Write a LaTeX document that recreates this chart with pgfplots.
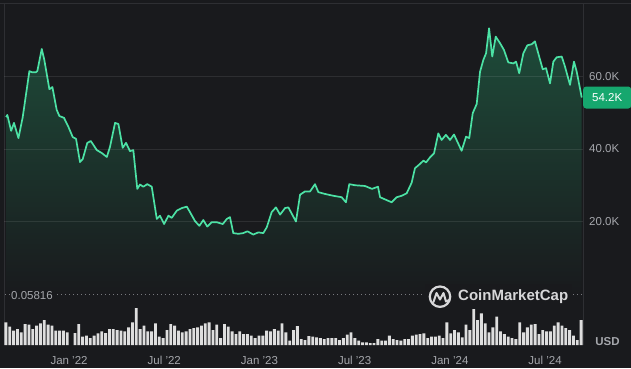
\documentclass[border=0pt]{standalone}
\usepackage{pgfplots}
\pgfplotsset{compat=1.18}
\usepackage{fontspec}
\setmainfont{Liberation Sans}
\definecolor{bg}{RGB}{25,26,29}
\definecolor{framec}{RGB}{46,47,51}
\definecolor{linec}{RGB}{76,226,165}
\definecolor{filltop}{RGB}{30,76,58}
\definecolor{labc}{RGB}{165,167,172}
\definecolor{dotc}{RGB}{120,122,126}
\definecolor{barc}{RGB}{222,222,222}
\definecolor{boxc}{RGB}{22,167,110}
\definecolor{logoc}{RGB}{215,215,217}
\newcommand{\lab}{\fontsize{11.5bp}{13bp}\selectfont}
\begin{document}
\begin{tikzpicture}[x=1bp,y=1bp]
\useasboundingbox (0,0) rectangle (631,368);
\fill[bg] (0,0) rectangle (631,368);
\draw[framec, line width=0.8bp] (0,365) -- (631,365);
\draw[framec, line width=0.8bp] (4,365) -- (4,23);
\draw[framec, line width=0.8bp] (583.5,365) -- (583.5,23);
\begin{axis}[at={(4bp,23bp)}, anchor=south west, scale only axis,
  width=579bp, height=342bp,
  xmin=-4.10, xmax=32.39, ymin=-14.07, ymax=80.28,
  axis line style={draw=none}, major tick length=0pt, axis on top,
  ytick={20,40,60}, yticklabels={20.0K,40.0K,60.0K}, yticklabel pos=right,
  ymajorgrids, grid style={white, opacity=0.09, line width=0.8bp},
  xtick={0,6,12,18,24,30},
  xticklabels={{Jan '22},{Jul '22},{Jan '23},{Jul '23},{Jan '24},{Jul '24}},
  tick label style={font=\lab, text=labc, inner sep=0pt},
  yticklabel style={anchor=west, xshift=6bp},
  xticklabel style={anchor=north, yshift=-11bp},
  clip=false]
\addplot[draw=none, top color=filltop, bottom color=bg, forget plot] coordinates {
(-3.97,0) (-3.97,48.8) (-3.89,49.4) (-3.65,45.0) (-3.47,47.2) (-3.19,43.0) (-2.92,48.8) (-2.50,61.5) (-2.35,61.2) (-2.08,61.2) (-2.00,61.5) (-1.72,67.6) (-1.56,64.6) (-1.24,56.5) (-1.05,57.1) (-0.78,50.8) (-0.61,49.1) (-0.32,48.6) (-0.04,46.1) (0.23,43.3) (0.44,42.8) (0.69,36.4) (0.86,37.2) (1.15,41.7) (1.37,42.2) (1.75,39.7) (2.06,38.9) (2.38,37.8) (2.58,40.6) (2.90,47.2) (3.11,46.9) (3.38,40.3) (3.59,41.7) (3.84,39.4) (4.05,39.7) (4.30,29.0) (4.47,30.2) (4.68,29.6) (4.93,30.3) (5.21,29.6) (5.53,20.7) (5.73,21.6) (5.99,19.3) (6.26,21.6) (6.47,21.0) (6.79,23.0) (7.10,23.7) (7.42,24.1) (7.62,22.6) (7.94,20.1) (8.21,18.8) (8.46,20.4) (8.71,18.6) (8.99,19.8) (9.31,19.8) (9.69,19.3) (9.94,20.7) (10.14,21.2) (10.35,16.8) (10.67,16.6) (10.98,16.8) (11.24,17.3) (11.61,16.4) (11.93,17.0) (12.24,16.8) (12.46,18.4) (12.77,22.6) (13.04,23.9) (13.30,21.9) (13.61,23.7) (13.82,23.9) (14.30,20.0) (14.56,27.4) (14.87,28.3) (15.19,28.3) (15.50,30.3) (15.71,28.1) (16.13,27.6) (16.65,27.1) (17.18,26.7) (17.45,25.3) (17.66,30.3) (18.02,30.0) (18.65,29.8) (19.09,29.0) (19.47,29.6) (19.60,26.7) (20.33,25.3) (20.65,26.7) (20.96,27.1) (21.28,27.8) (21.59,30.7) (21.80,34.7) (22.12,35.9) (22.33,36.8) (22.50,36.3) (22.75,37.7) (23.00,38.8) (23.27,44.3) (23.48,42.5) (23.75,43.9) (24.01,42.5) (24.26,44.0) (24.74,39.5) (25.02,43.4) (25.22,43.0) (25.44,49.9) (25.69,52.4) (25.90,61.3) (26.11,64.6) (26.28,66.4) (26.47,73.3) (26.67,65.5) (26.89,71.0) (27.16,69.2) (27.41,67.3) (27.68,63.9) (28.00,63.6) (28.17,64.1) (28.37,60.9) (28.63,66.4) (28.88,68.6) (29.16,68.9) (29.36,69.7) (29.57,66.4) (29.85,62.0) (30.06,62.3) (30.31,58.1) (30.52,64.1) (30.73,65.3) (31.05,65.5) (31.25,62.8) (31.57,57.7) (31.82,64.1) (31.99,61.4) (32.31,54.2) (32.31,0)};
\addplot[linec, line width=1.7bp, line join=round, mark=none] coordinates {
(-3.97,48.8) (-3.89,49.4) (-3.65,45.0) (-3.47,47.2) (-3.19,43.0) (-2.92,48.8) (-2.50,61.5) (-2.35,61.2) (-2.08,61.2) (-2.00,61.5) (-1.72,67.6) (-1.56,64.6) (-1.24,56.5) (-1.05,57.1) (-0.78,50.8) (-0.61,49.1) (-0.32,48.6) (-0.04,46.1) (0.23,43.3) (0.44,42.8) (0.69,36.4) (0.86,37.2) (1.15,41.7) (1.37,42.2) (1.75,39.7) (2.06,38.9) (2.38,37.8) (2.58,40.6) (2.90,47.2) (3.11,46.9) (3.38,40.3) (3.59,41.7) (3.84,39.4) (4.05,39.7) (4.30,29.0) (4.47,30.2) (4.68,29.6) (4.93,30.3) (5.21,29.6) (5.53,20.7) (5.73,21.6) (5.99,19.3) (6.26,21.6) (6.47,21.0) (6.79,23.0) (7.10,23.7) (7.42,24.1) (7.62,22.6) (7.94,20.1) (8.21,18.8) (8.46,20.4) (8.71,18.6) (8.99,19.8) (9.31,19.8) (9.69,19.3) (9.94,20.7) (10.14,21.2) (10.35,16.8) (10.67,16.6) (10.98,16.8) (11.24,17.3) (11.61,16.4) (11.93,17.0) (12.24,16.8) (12.46,18.4) (12.77,22.6) (13.04,23.9) (13.30,21.9) (13.61,23.7) (13.82,23.9) (14.30,20.0) (14.56,27.4) (14.87,28.3) (15.19,28.3) (15.50,30.3) (15.71,28.1) (16.13,27.6) (16.65,27.1) (17.18,26.7) (17.45,25.3) (17.66,30.3) (18.02,30.0) (18.65,29.8) (19.09,29.0) (19.47,29.6) (19.60,26.7) (20.33,25.3) (20.65,26.7) (20.96,27.1) (21.28,27.8) (21.59,30.7) (21.80,34.7) (22.12,35.9) (22.33,36.8) (22.50,36.3) (22.75,37.7) (23.00,38.8) (23.27,44.3) (23.48,42.5) (23.75,43.9) (24.01,42.5) (24.26,44.0) (24.74,39.5) (25.02,43.4) (25.22,43.0) (25.44,49.9) (25.69,52.4) (25.90,61.3) (26.11,64.6) (26.28,66.4) (26.47,73.3) (26.67,65.5) (26.89,71.0) (27.16,69.2) (27.41,67.3) (27.68,63.9) (28.00,63.6) (28.17,64.1) (28.37,60.9) (28.63,66.4) (28.88,68.6) (29.16,68.9) (29.36,69.7) (29.57,66.4) (29.85,62.0) (30.06,62.3) (30.31,58.1) (30.52,64.1) (30.73,65.3) (31.05,65.5) (31.25,62.8) (31.57,57.7) (31.82,64.1) (31.99,61.4) (32.31,54.2)};
\node[fill=boxc, rounded corners=3bp, text=white, font=\lab, anchor=west,
  minimum height=22bp, minimum width=48bp, inner sep=0pt] at (axis cs:32.39,54.2) {54.2K};
\end{axis}
% dotted zero line
\draw[dotc, line width=1bp, dash pattern=on 1bp off 3bp] (5,74) -- (583,74);
\node[fill=bg, text=labc, font=\lab, anchor=west, inner sep=1.5bp] at (9.5,72.5) {0.05816};
% logo
\fill[bg] (425,60) rectangle (572,84);
\draw[logoc, line width=2.2bp] (440,71.3) circle (10.2bp);
\draw[logoc, line width=2bp, line join=round, line cap=round] (433.5,66) -- (436.5,75) -- (440,68.5) -- (443.5,75) -- (446,66.5) -- (449,68);
\node[anchor=west, font=\fontsize{15bp}{18bp}\selectfont\bfseries, text=logoc, inner sep=0pt] at (458,71.3) {CoinMarketCap};
\node[font=\lab\bfseries, text=labc, inner sep=0pt] at (607.5,26) {USD};
\begin{axis}[at={(4bp,23bp)}, anchor=south west, scale only axis,
  width=579bp, height=45bp, xmin=0.5, xmax=151.5, ymin=0, ymax=45,
  hide axis, clip=false]
\addplot[ybar, bar width=0.74, fill=barc, draw=none] table[x=s, y=v] {
s v
1 22.7
2 18.3
3 14.3
4 16
5 12.7
6 21
7 20.3
8 16
9 19.3
10 21.7
11 25
12 20.3
13 19.3
14 14.3
15 14.3
16 14.3
17 12.7
19 12
20 21
21 8.3
22 9.3
23 7
24 9.3
25 11.7
26 13.7
27 12
28 16
29 16
30 15
31 14.3
32 13.7
33 17.7
34 22.7
35 37
36 16
37 19.3
38 13.7
39 13.7
40 21.7
41 8.3
42 7
43 15
44 21
45 19.3
46 14.3
47 12.7
48 13.7
49 16
50 17
51 17.7
52 19.3
53 21.7
54 22.7
55 15
56 20.3
57 7
58 21
59 18.3
60 13.7
61 11
62 13.7
63 11
64 11
65 9.3
66 7
67 9.3
68 9.3
69 14.3
70 13.7
71 16
72 14.3
73 21.7
74 12.7
75 4.3
76 15
77 19
78 6
79 5
80 9
81 8.3
82 7.7
83 7
84 6
85 7
86 7
87 7
88 5
89 7
90 10.3
91 12.7
92 7
93 4.3
94 2.7
95 2.7
96 2
97 2
98 6
99 4.3
100 4.3
101 9.3
102 6
103 5
104 4.3
105 6
106 6
107 9.3
108 10.3
109 11
110 11.7
111 7
112 8.3
113 8.3
114 9.3
115 7
116 22.7
117 11.7
118 15
119 12.7
120 7.7
121 20.3
122 15
123 36
124 25
125 31.7
126 21.7
127 12.7
128 17.7
129 28.3
130 13.7
131 11
132 8.3
133 7
134 6
135 22.7
136 12.7
137 17.7
138 20.3
139 21
140 11
141 15
142 13.7
143 13.7
144 19.3
145 22.7
146 19.3
147 17
148 15
149 9.3
150 5
151 25
};
\end{axis}
\end{tikzpicture}
\end{document}
